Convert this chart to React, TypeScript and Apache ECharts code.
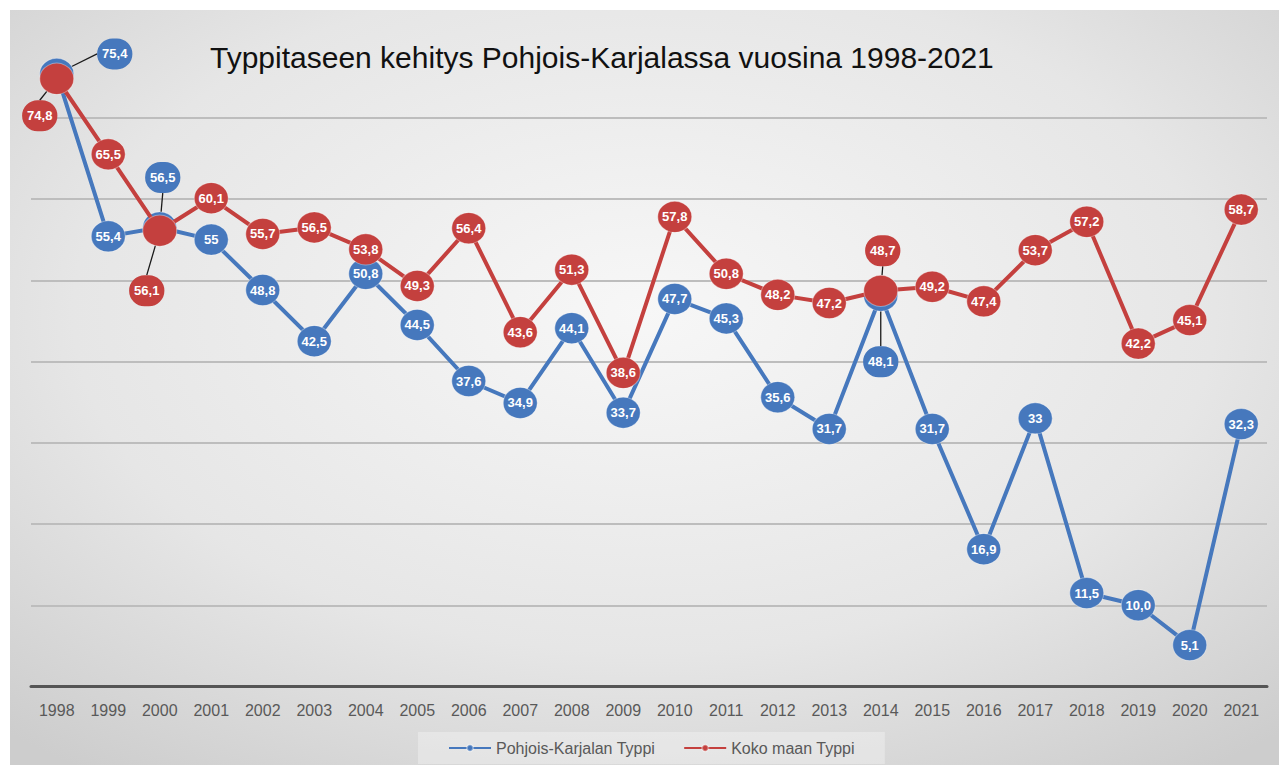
import React, { useEffect, useRef } from "react";
import * as echarts from "echarts";

const years = ["1998","1999","2000","2001","2002","2003","2004","2005","2006","2007","2008","2009","2010","2011","2012","2013","2014","2015","2016","2017","2018","2019","2020","2021"];
const blueValues = [75.4,55.4,56.5,55,48.8,42.5,50.8,44.5,37.6,34.9,44.1,33.7,47.7,45.3,35.6,31.7,48.1,31.7,16.9,33,11.5,10.0,5.1,32.3];
const blueLabels = ["75,4","55,4","56,5","55","48,8","42,5","50,8","44,5","37,6","34,9","44,1","33,7","47,7","45,3","35,6","31,7","48,1","31,7","16,9","33","11,5","10,0","5,1","32,3"];
const redValues = [74.8,65.5,56.1,60.1,55.7,56.5,53.8,49.3,56.4,43.6,51.3,38.6,57.8,50.8,48.2,47.2,48.7,49.2,47.4,53.7,57.2,42.2,45.1,58.7];
const redLabels = ["74,8","65,5","56,1","60,1","55,7","56,5","53,8","49,3","56,4","43,6","51,3","38,6","57,8","50,8","48,2","47,2","48,7","49,2","47,4","53,7","57,2","42,2","45,1","58,7"];

const TITLE = "Typpitaseen kehitys Pohjois-Karjalassa vuosina 1998-2021";
const BLUE_NAME = "Pohjois-Karjalan Typpi";
const RED_NAME = "Koko maan Typpi";
const BLUE = "#4678bd";
const RED = "#c4403e";

// label displacement (pixels) for the overlapping points
const blueShift: Record<number, [number, number]> = { 0: [58, -20], 2: [3, -50], 16: [0, 66] };
const redShift: Record<number, [number, number]> = { 0: [-17, 37], 2: [-13, 60], 16: [2, -40] };

const LABEL_FONT = "'Liberation Sans Narrow', 'Liberation Sans', Arial, sans-serif";

function buildData(values: number[], shift: Record<number, [number, number]>, color: string) {
  return values.map((v, i) => {
    if (!shift[i]) return v;
    return {
      value: v,
      label: {
        backgroundColor: color,
        borderRadius: 16,
        padding: [9, 5, 9, 5],
      },
      labelLine: { show: true, lineStyle: { color: "#1a1a1a", width: 1.3 } },
    };
  });
}

function makeSeries(name: string, values: number[], labels: string[], shift: Record<number, [number, number]>, color: string, z: number) {
  return {
    name,
    type: "line",
    z,
    data: buildData(values, shift, color),
    symbol: "circle",
    symbolSize: [34, 31],
    lineStyle: { width: 4, color },
    itemStyle: { color, borderColor: "rgba(255,255,255,0.35)", borderWidth: 1 },
    label: {
      show: true,
      position: "inside",
      formatter: (p: any) => labels[p.dataIndex],
      color: "#fff",
      fontWeight: "bold",
      fontSize: 13,
      fontFamily: LABEL_FONT,
    },
    labelLayout: (p: any) => {
      const s = shift[p.dataIndex];
      return s ? { dx: s[0], dy: s[1] } : {};
    },
    emphasis: { disabled: true },
  };
}

export default function App() {
  const ref = useRef<HTMLDivElement>(null);
  useEffect(() => {
    document.body.style.margin = "0";
    if (!ref.current) return;
    const chart = echarts.init(ref.current, undefined, { renderer: "svg" });
    chart.setOption({
      animation: false,
      backgroundColor: "#ffffff",
      graphic: [
        {
          type: "rect",
          z: -100,
          silent: true,
          shape: { x: 10, y: 10, width: 1269, height: 755 },
          style: {
            fill: new echarts.graphic.RadialGradient(0.5, 0.4, 0.75, [
              { offset: 0, color: "#f7f7f7" },
              { offset: 0.6, color: "#e6e6e6" },
              { offset: 1, color: "#cdcdcd" },
            ]),
          },
        },
      ],
      title: {
        text: TITLE,
        left: 210,
        top: 42,
        padding: 0,
        textStyle: { fontFamily: "'Liberation Sans', Arial, sans-serif", fontSize: 30, fontWeight: "normal", color: "#111" },
      },
      legend: {
        bottom: 1,
        left: 418,
        data: [BLUE_NAME, RED_NAME],
        itemWidth: 42,
        itemHeight: 8,
        itemGap: 28,
        padding: [8, 30, 8, 30],
        backgroundColor: "rgba(255,255,255,0.3)",
        textStyle: { fontFamily: LABEL_FONT, fontSize: 16, color: "#595959" },
      },
      grid: { left: 31, right: 12, top: 36.5, bottom: 78.5, containLabel: false },
      xAxis: {
        type: "category",
        data: years,
        boundaryGap: true,
        axisLine: { lineStyle: { color: "#555", width: 3 } },
        axisTick: { show: false },
        axisLabel: { color: "#595959", fontSize: 16, margin: 16, fontFamily: LABEL_FONT, interval: 0 },
      },
      yAxis: {
        type: "value",
        min: 0,
        max: 80,
        interval: 10,
        axisLabel: { show: false },
        axisLine: { show: false },
        axisTick: { show: false },
        splitLine: {
          showMaxLine: false,
          lineStyle: { color: "#bdbdbd", width: 2 },
        },
      },
      series: [
        makeSeries(BLUE_NAME, blueValues, blueLabels, blueShift, BLUE, 2),
        makeSeries(RED_NAME, redValues, redLabels, redShift, RED, 3),
      ],
    });
    return () => chart.dispose();
  }, []);
  return <div ref={ref} style={{ width: 1279, height: 765 }} />;
}
